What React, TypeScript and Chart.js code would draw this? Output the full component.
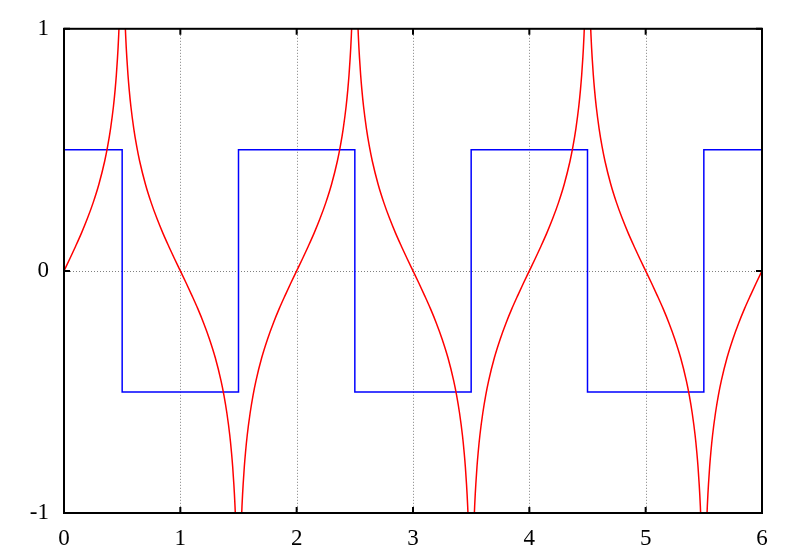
import React, { useEffect, useRef } from "react";
import { Chart, registerables } from "chart.js";

Chart.register(...registerables);

// Red curve: one half-branch (offset from a zero crossing -> value)
const redOffsets = [0, 0.05, 0.1, 0.15, 0.2, 0.25, 0.3, 0.35, 0.375, 0.4, 0.425, 0.44, 0.45, 0.46, 0.465, 0.47, 0.475, 0.48, 0.485, 0.49, 0.495];
const redValues = [0, 0.05, 0.102, 0.156, 0.215, 0.281, 0.358, 0.454, 0.514, 0.587, 0.679, 0.751, 0.809, 0.881, 0.923, 0.972, 1.03, 1.101, 1.193, 1.322, 1.543];
// Zero crossings of the red curve and whether it rises (+1) or falls (-1) there
const redCrossings = [0, 1, 2, 3, 4, 5, 6];
const redDirections = [1, -1, 1, -1, 1, -1, 1];

// Blue square wave
const blueSwitchX = [0.5, 1.5, 2.5, 3.5, 4.5, 5.5];
const blueLevels = [0.5, -0.5, 0.5, -0.5, 0.5, -0.5, 0.5];

const xTicks = [0, 1, 2, 3, 4, 5, 6];
const yTicks = [-1, 0, 1];
const X_MIN = 0, X_MAX = 6, Y_MIN = -1, Y_MAX = 1;

function buildRed() {
  const pts: any[] = [];
  redCrossings.forEach((n, i) => {
    const s = redDirections[i];
    for (let k = redOffsets.length - 1; k >= 1; k--) {
      const x = n - redOffsets[k];
      if (x >= X_MIN) pts.push({ x, y: -s * redValues[k] });
    }
    pts.push({ x: n, y: 0 });
    for (let k = 1; k < redOffsets.length; k++) {
      const x = n + redOffsets[k];
      if (x <= X_MAX) pts.push({ x, y: s * redValues[k] });
    }
    if (n + 0.5 < X_MAX) pts.push({ x: n + 0.5, y: null });
  });
  return pts;
}

function buildBlue() {
  const pts: any[] = [{ x: X_MIN, y: blueLevels[0] }];
  blueSwitchX.forEach((sx, i) => {
    pts.push({ x: sx, y: blueLevels[i] });
    pts.push({ x: sx, y: blueLevels[i + 1] });
  });
  pts.push({ x: X_MAX, y: blueLevels[blueLevels.length - 1] });
  return pts;
}

const framePlugin = {
  id: "frame",
  beforeDatasetsDraw(chart: any) {
    const { ctx, chartArea: a, scales } = chart;
    ctx.save();
    ctx.strokeStyle = "#808080";
    ctx.lineWidth = 1;
    ctx.setLineDash([1, 2]);
    xTicks.forEach((v) => {
      if (v === X_MIN || v === X_MAX) return;
      const px = Math.round(scales.x.getPixelForValue(v)) + 0.5;
      ctx.beginPath();
      ctx.moveTo(px, a.top);
      ctx.lineTo(px, a.bottom);
      ctx.stroke();
    });
    yTicks.forEach((v) => {
      if (v === Y_MIN || v === Y_MAX) return;
      const py = Math.round(scales.y.getPixelForValue(v)) + 0.5;
      ctx.beginPath();
      ctx.moveTo(a.left, py);
      ctx.lineTo(a.right, py);
      ctx.stroke();
    });
    ctx.restore();
  },
  afterDatasetsDraw(chart: any) {
    const { ctx, chartArea: a, scales } = chart;
    ctx.save();
    ctx.strokeStyle = "#000";
    ctx.lineWidth = 2;
    ctx.setLineDash([]);
    const tl = 6;
    xTicks.forEach((v) => {
      const px = scales.x.getPixelForValue(v);
      ctx.beginPath();
      ctx.moveTo(px, a.bottom);
      ctx.lineTo(px, a.bottom - tl);
      ctx.moveTo(px, a.top);
      ctx.lineTo(px, a.top + tl);
      ctx.stroke();
    });
    yTicks.forEach((v) => {
      const py = scales.y.getPixelForValue(v);
      ctx.beginPath();
      ctx.moveTo(a.left, py);
      ctx.lineTo(a.left + tl, py);
      ctx.moveTo(a.right, py);
      ctx.lineTo(a.right - tl, py);
      ctx.stroke();
    });
    ctx.strokeRect(a.left, a.top, a.right - a.left, a.bottom - a.top);
    ctx.restore();
  },
};

export default function App() {
  const ref = useRef<HTMLCanvasElement>(null);
  useEffect(() => {
    if (!ref.current) return;
    const font = { family: "'Liberation Serif', 'Times New Roman', serif", size: 23 };
    const chart = new Chart(ref.current, {
      type: "line",
      data: {
        datasets: [
          {
            data: buildRed(),
            borderColor: "#ff0000",
            borderWidth: 1.5,
            pointRadius: 0,
            spanGaps: false,
            cubicInterpolationMode: "monotone",
            clip: 0,
          },
          {
            data: buildBlue(),
            borderColor: "#0000ff",
            borderWidth: 1.5,
            pointRadius: 0,
            tension: 0,
            clip: 0,
          },
        ],
      },
      options: {
        animation: false,
        responsive: false,
        layout: { padding: { top: 26, right: 38, left: 0, bottom: 0 } },
        plugins: { legend: { display: false }, tooltip: { enabled: false } },
        scales: {
          x: {
            type: "linear",
            min: X_MIN,
            max: X_MAX,
            grid: { display: false, drawTicks: false },
            border: { display: false },
            afterBuildTicks: (s: any) => { s.ticks = xTicks.map((v) => ({ value: v })); },
            afterFit: (s: any) => { s.height = 47; },
            ticks: { color: "#000", font, padding: 12, maxRotation: 0, autoSkip: false, callback: (v: any) => String(v) },
          },
          y: {
            type: "linear",
            min: Y_MIN,
            max: Y_MAX,
            grid: { display: false, drawTicks: false },
            border: { display: false },
            afterBuildTicks: (s: any) => { s.ticks = yTicks.map((v) => ({ value: v })); },
            afterFit: (s: any) => { s.width = 64; },
            ticks: { color: "#000", font, padding: 15, autoSkip: false, callback: (v: any) => String(v) },
          },
        },
      },
      plugins: [framePlugin],
    } as any);
    return () => chart.destroy();
  }, []);
  return (
    <canvas
      ref={ref}
      width={800}
      height={560}
      style={{ position: "absolute", left: 0, top: 0, width: 800, height: 560 }}
    />
  );
}
